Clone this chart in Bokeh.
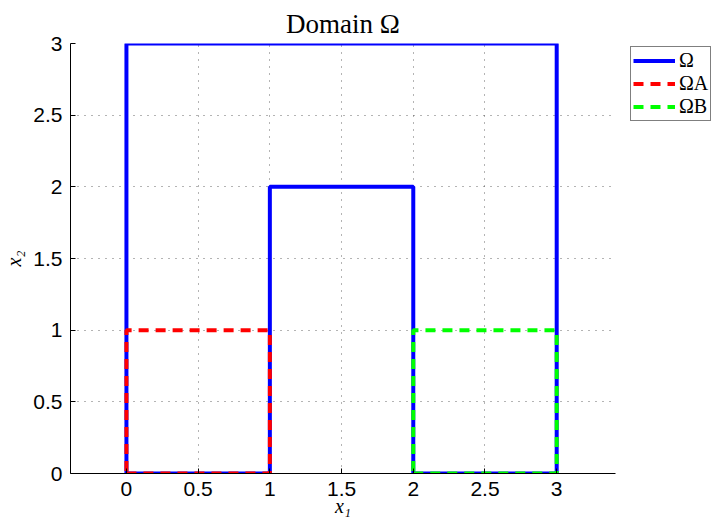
from bokeh.plotting import figure
from bokeh.models import Range1d, FixedTicker, Legend, LegendItem
from bokeh.embed import file_html
from bokeh.resources import INLINE

# ---- data ----
omega_x = [0, 0, 3, 3, 2, 2, 1, 1, 0]
omega_y = [0, 3, 3, 0, 0, 2, 2, 0, 0]
omega_a_x = [0, 1, 1, 0, 0]
omega_a_y = [0, 0, 1, 1, 0]
omega_b_x = [2, 3, 3, 2, 2]
omega_b_y = [0, 0, 1, 1, 0]
x_ticks = [0, 0.5, 1, 1.5, 2, 2.5, 3]
x_tick_labels = ["0", "0.5", "1", "1.5", "2", "2.5", "3"]
y_ticks = [0, 0.5, 1, 1.5, 2, 2.5, 3]
y_tick_labels = ["0", "0.5", "1", "1.5", "2", "2.5", "3"]
legend_labels = ["Ω", "ΩA", "ΩB"]

FW, FH = 545, 430

p = figure(frame_width=FW, frame_height=FH, output_backend="svg", toolbar_location=None,
           x_range=Range1d(-0.39, 3.41), y_range=Range1d(0, 3),
           min_border_left=65, min_border_right=5, min_border_top=43,
           min_border_bottom=30)

p.title.text = "Domain Ω"
p.title.align = "center"
p.title.text_font = "Liberation Serif"
p.title.text_font_size = "27px"
p.title.text_font_style = "normal"
p.title.text_color = "black"
p.title.offset = 0
p.title.standoff = 9

p.outline_line_color = None
p.background_fill_color = "white"
p.border_fill_color = "white"

for ax, ticks, labels in ((p.xaxis[0], x_ticks, x_tick_labels), (p.yaxis[0], y_ticks, y_tick_labels)):
    ax.ticker = FixedTicker(ticks=ticks, minor_ticks=[])
    ax.major_label_overrides = {t: l for t, l in zip(ticks, labels)}
    ax.major_label_text_font = "Liberation Sans"
    ax.major_label_text_font_size = "21px"
    ax.major_label_text_color = "black"
    ax.major_tick_in = 5
    ax.major_tick_out = 0
    ax.minor_tick_in = 0
    ax.minor_tick_out = 0
    ax.axis_line_color = "black"
    ax.major_tick_line_color = "black"
    ax.axis_label_text_font = "Liberation Serif"
    ax.axis_label_text_font_style = "italic"
    ax.axis_label_text_font_size = "20px"
    ax.axis_label_text_color = "black"

p.xaxis.axis_label = "x₁"
p.yaxis.axis_label = "x₂"
p.xaxis.major_label_standoff = 8
p.xaxis.axis_label_standoff = -4
p.yaxis.major_label_standoff = 8
p.yaxis.axis_label_standoff = 5

for g in (p.xgrid[0], p.ygrid[0]):
    g.grid_line_color = "#444444"
    g.grid_line_dash = "1 6"
    g.grid_line_width = 1
    g.grid_line_alpha = 0.8

r_omega = p.line(omega_x, omega_y, line_color="#0000ff", line_width=4)
r_a = p.line(omega_a_x, omega_a_y, line_color="#ff0000", line_width=4, line_dash="10 7")
r_b = p.line(omega_b_x, omega_b_y, line_color="#00ff00", line_width=4, line_dash="10 7")

legend = Legend(items=[LegendItem(label=legend_labels[0], renderers=[r_omega]),
                       LegendItem(label=legend_labels[1], renderers=[r_a]),
                       LegendItem(label=legend_labels[2], renderers=[r_b])],
                location=(15, FH - 78), orientation="vertical")
legend.glyph_width = 42
legend.glyph_height = 21
legend.label_height = 21
legend.label_standoff = 4
legend.spacing = 0
legend.padding = 2
legend.margin = 0
legend.border_line_color = "black"
legend.border_line_width = 1
legend.label_text_font = "Liberation Serif"
legend.label_text_font_size = "20px"
legend.label_text_color = "black"
legend.background_fill_alpha = 1
p.add_layout(legend, "right")

open("out.html", "w").write(file_html(p, INLINE))
